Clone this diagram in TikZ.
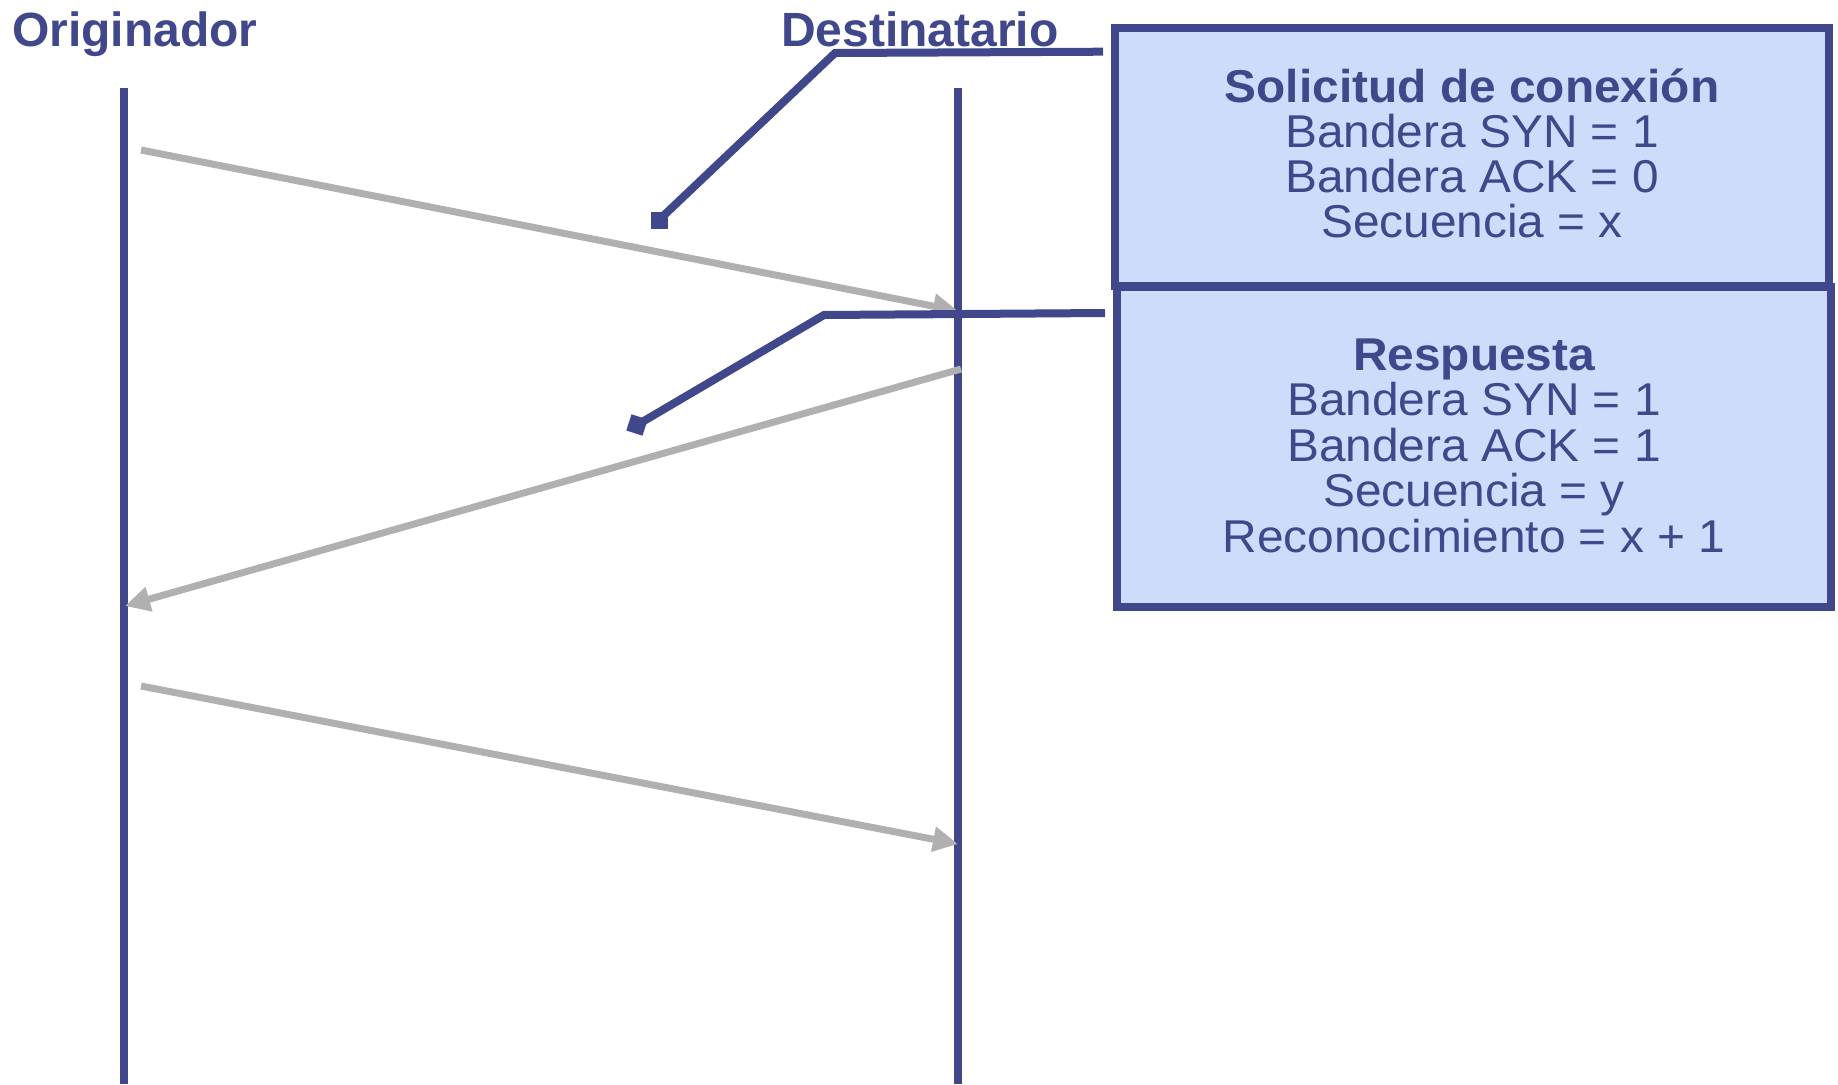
\documentclass[tikz,border=0pt]{standalone}
\usepackage{fontspec}
\setmainfont{Liberation Sans}
\newfontfamily\boxfont[FakeStretch=1.04]{Liberation Sans}
\usetikzlibrary{arrows.meta}
\definecolor{ink}{RGB}{64,71,139}
\definecolor{panel}{RGB}{206,219,250}
\definecolor{msg}{RGB}{176,176,176}
\begin{document}
\begin{tikzpicture}[x=1pt,y=-1pt,
  lifeline/.style={draw=ink,line width=8pt},
  message/.style={draw=msg,line width=7pt,-{Triangle[length=25pt,width=24pt]}},
  leader/.style={draw=ink,line width=8pt,line join=miter},
  pin/.style={fill=ink,minimum size=17pt,inner sep=0pt,outer sep=0pt,draw=none},
  panelbox/.style={draw=ink,fill=panel,line width=8pt,inner sep=0pt,outer sep=0pt},
  actor/.style={text=ink,font=\fontsize{48}{50}\selectfont\bfseries,inner sep=0pt,anchor=base west},
  heading/.style={text=ink,font=\boxfont\fontsize{46}{46}\selectfont\bfseries,inner sep=0pt,anchor=base},
  field/.style={text=ink,font=\boxfont\fontsize{46}{46}\selectfont,inner sep=0pt,anchor=base}]

\useasboundingbox (0,0) rectangle (1838,1084);

% participants
\node[actor] (orig) at (12,46) {Originador};
\node[actor] (dest) at (781,46) {Destinatario};

% lifelines
\coordinate (oTop) at (124,88);
\coordinate (oBot) at (124,1084);
\coordinate (dTop) at (958,88);
\coordinate (dBot) at (958,1084);
\draw[lifeline] (oTop) -- (oBot);
\draw[lifeline] (dTop) -- (dBot);

% segment descriptions
\node[panelbox,minimum width=714.3pt,minimum height=258pt] (req) at (1471.85,157) {};
\node[panelbox,minimum width=714.3pt,minimum height=320.2pt] (rsp) at (1473.85,446.6) {};

\node[heading] (reqT) at (1472,102) {Solicitud de conexión};
\node[field] (reqA) at (1472,147.5) {Bandera SYN = 1};
\node[field] (reqB) at (1472,192.5) {Bandera ACK = 0};
\node[field] (reqC) at (1472,237.5) {Secuencia = x};

\node[heading] (rspT) at (1474,370) {Respuesta};
\node[field] (rspA) at (1474,415.5) {Bandera SYN = 1};
\node[field] (rspB) at (1474,461) {Bandera ACK = 1};
\node[field] (rspC) at (1474,506.5) {Secuencia = y};
\node[field] (rspD) at (1474,552) {Reconocimiento = x + 1};

% three-way handshake messages
\coordinate (m1s) at (141,150);
\coordinate (m1e) at (958,311);
\coordinate (m2s) at (961,369);
\coordinate (m2e) at (125,606);
\coordinate (m3s) at (141,686);
\coordinate (m3e) at (958,844);
\draw[message] (m1s) -- (m1e);
\draw[message] (m2s) -- (m2e);
\draw[message] (m3s) -- (m3e);

% callout leaders
\node[pin] (pin1) at (659,220) {};
\coordinate (b1) at (835,53);
\coordinate (e1) at (1103,51.7);
\draw[leader] (pin1.center) -- (b1) -- (e1);

\node[pin,rotate=-18] (pin2) at (637,425) {};
\coordinate (b2) at (824,315);
\coordinate (e2) at (1105,313);
\draw[leader] (pin2.center) -- (b2) -- (e2);
\end{tikzpicture}
\end{document}
